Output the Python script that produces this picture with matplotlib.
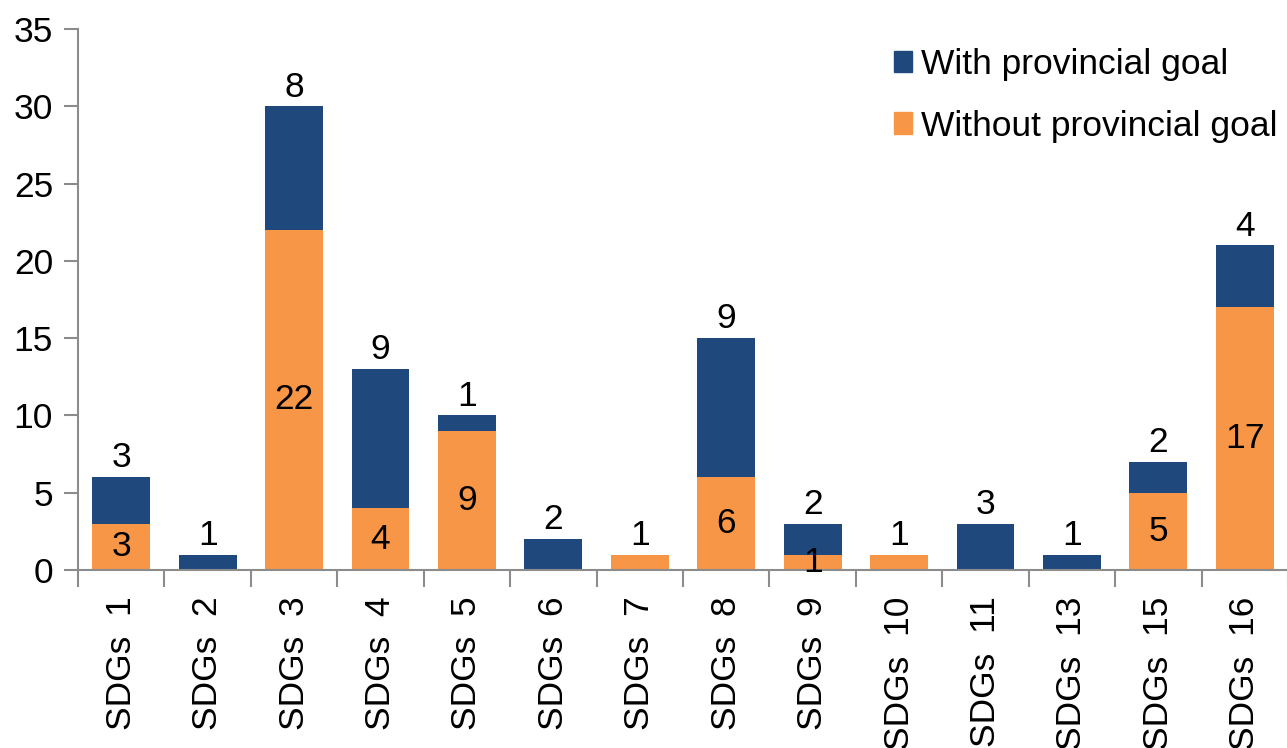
import matplotlib
matplotlib.use("Agg")
import matplotlib.pyplot as plt
from matplotlib.patches import Patch
import numpy as np

plt.rcParams['font.family'] = ['Liberation Sans', 'DejaVu Sans']

categories = ["SDGs  1", "SDGs  2", "SDGs  3", "SDGs  4", "SDGs  5", "SDGs  6", "SDGs  7",
              "SDGs  8", "SDGs  9", "SDGs  10", "SDGs  11", "SDGs  13", "SDGs  15", "SDGs  16"]
without_goal = [3, 0, 22, 4, 9, 0, 1, 6, 1, 1, 0, 0, 5, 17]
with_goal = [3, 1, 8, 9, 1, 2, 0, 9, 2, 0, 3, 1, 2, 4]
yticks = [0, 5, 10, 15, 20, 25, 30, 35]

BLUE = "#1F497D"
ORANGE = "#F79646"
GREY = "#8C8C8C"
FS = 25.5

fig = plt.figure(figsize=(12.87, 7.48), dpi=100)
ax = fig.add_axes([78/1287, 1-570/748, 1210/1287, 541/748])

x = np.arange(len(categories))
wo = np.array(without_goal)
wi = np.array(with_goal)
ax.bar(x, wo, width=0.67, color=ORANGE, zorder=2)
ax.bar(x, wi, width=0.67, bottom=wo, color=BLUE, zorder=2)

for i in range(len(categories)):
    if wo[i] > 0:
        if wi[i] > 0:
            ax.text(x[i], wo[i]/2, str(wo[i]), ha='center', va='center', fontsize=FS, zorder=3)
        else:
            ax.annotate(str(wo[i]), (x[i], wo[i]), xytext=(0, 2), textcoords='offset points',
                        ha='center', va='bottom', fontsize=FS)
    if wi[i] > 0:
        ax.annotate(str(wi[i]), (x[i], wo[i] + wi[i]), xytext=(0, 2), textcoords='offset points',
                    ha='center', va='bottom', fontsize=FS)

ax.set_xlim(-0.5, len(categories) - 0.5)
ax.set_ylim(0, 35)
ax.set_yticks(yticks)
ax.set_yticklabels([str(v) for v in yticks], fontsize=FS)
ax.set_xticks(x)
ax.set_xticklabels(categories, rotation=90, fontsize=FS, va='top', ha='center')
ax.tick_params(axis='x', which='major', length=0, pad=19)
ax.set_xticks(np.arange(len(categories) + 1) - 0.5, minor=True)
ax.tick_params(axis='x', which='minor', length=12, color=GREY, width=1.5, direction='out')
ax.tick_params(axis='y', length=10, color=GREY, width=1.5, pad=8)

for s in ['top', 'right']:
    ax.spines[s].set_visible(False)
for s in ['left', 'bottom']:
    ax.spines[s].set_color(GREY)
    ax.spines[s].set_linewidth(1.5)

handles = [Patch(color=BLUE, label="With provincial goal"),
           Patch(color=ORANGE, label="Without provincial goal")]
leg = fig.legend(handles=handles, loc='upper left', bbox_to_anchor=(880/1287, 1-34/748),
                 frameon=False, fontsize=FS, handlelength=0.5, handleheight=0.55,
                 handletextpad=0.25, labelspacing=0.8, borderaxespad=0)

fig.savefig("out.png", dpi=100)
